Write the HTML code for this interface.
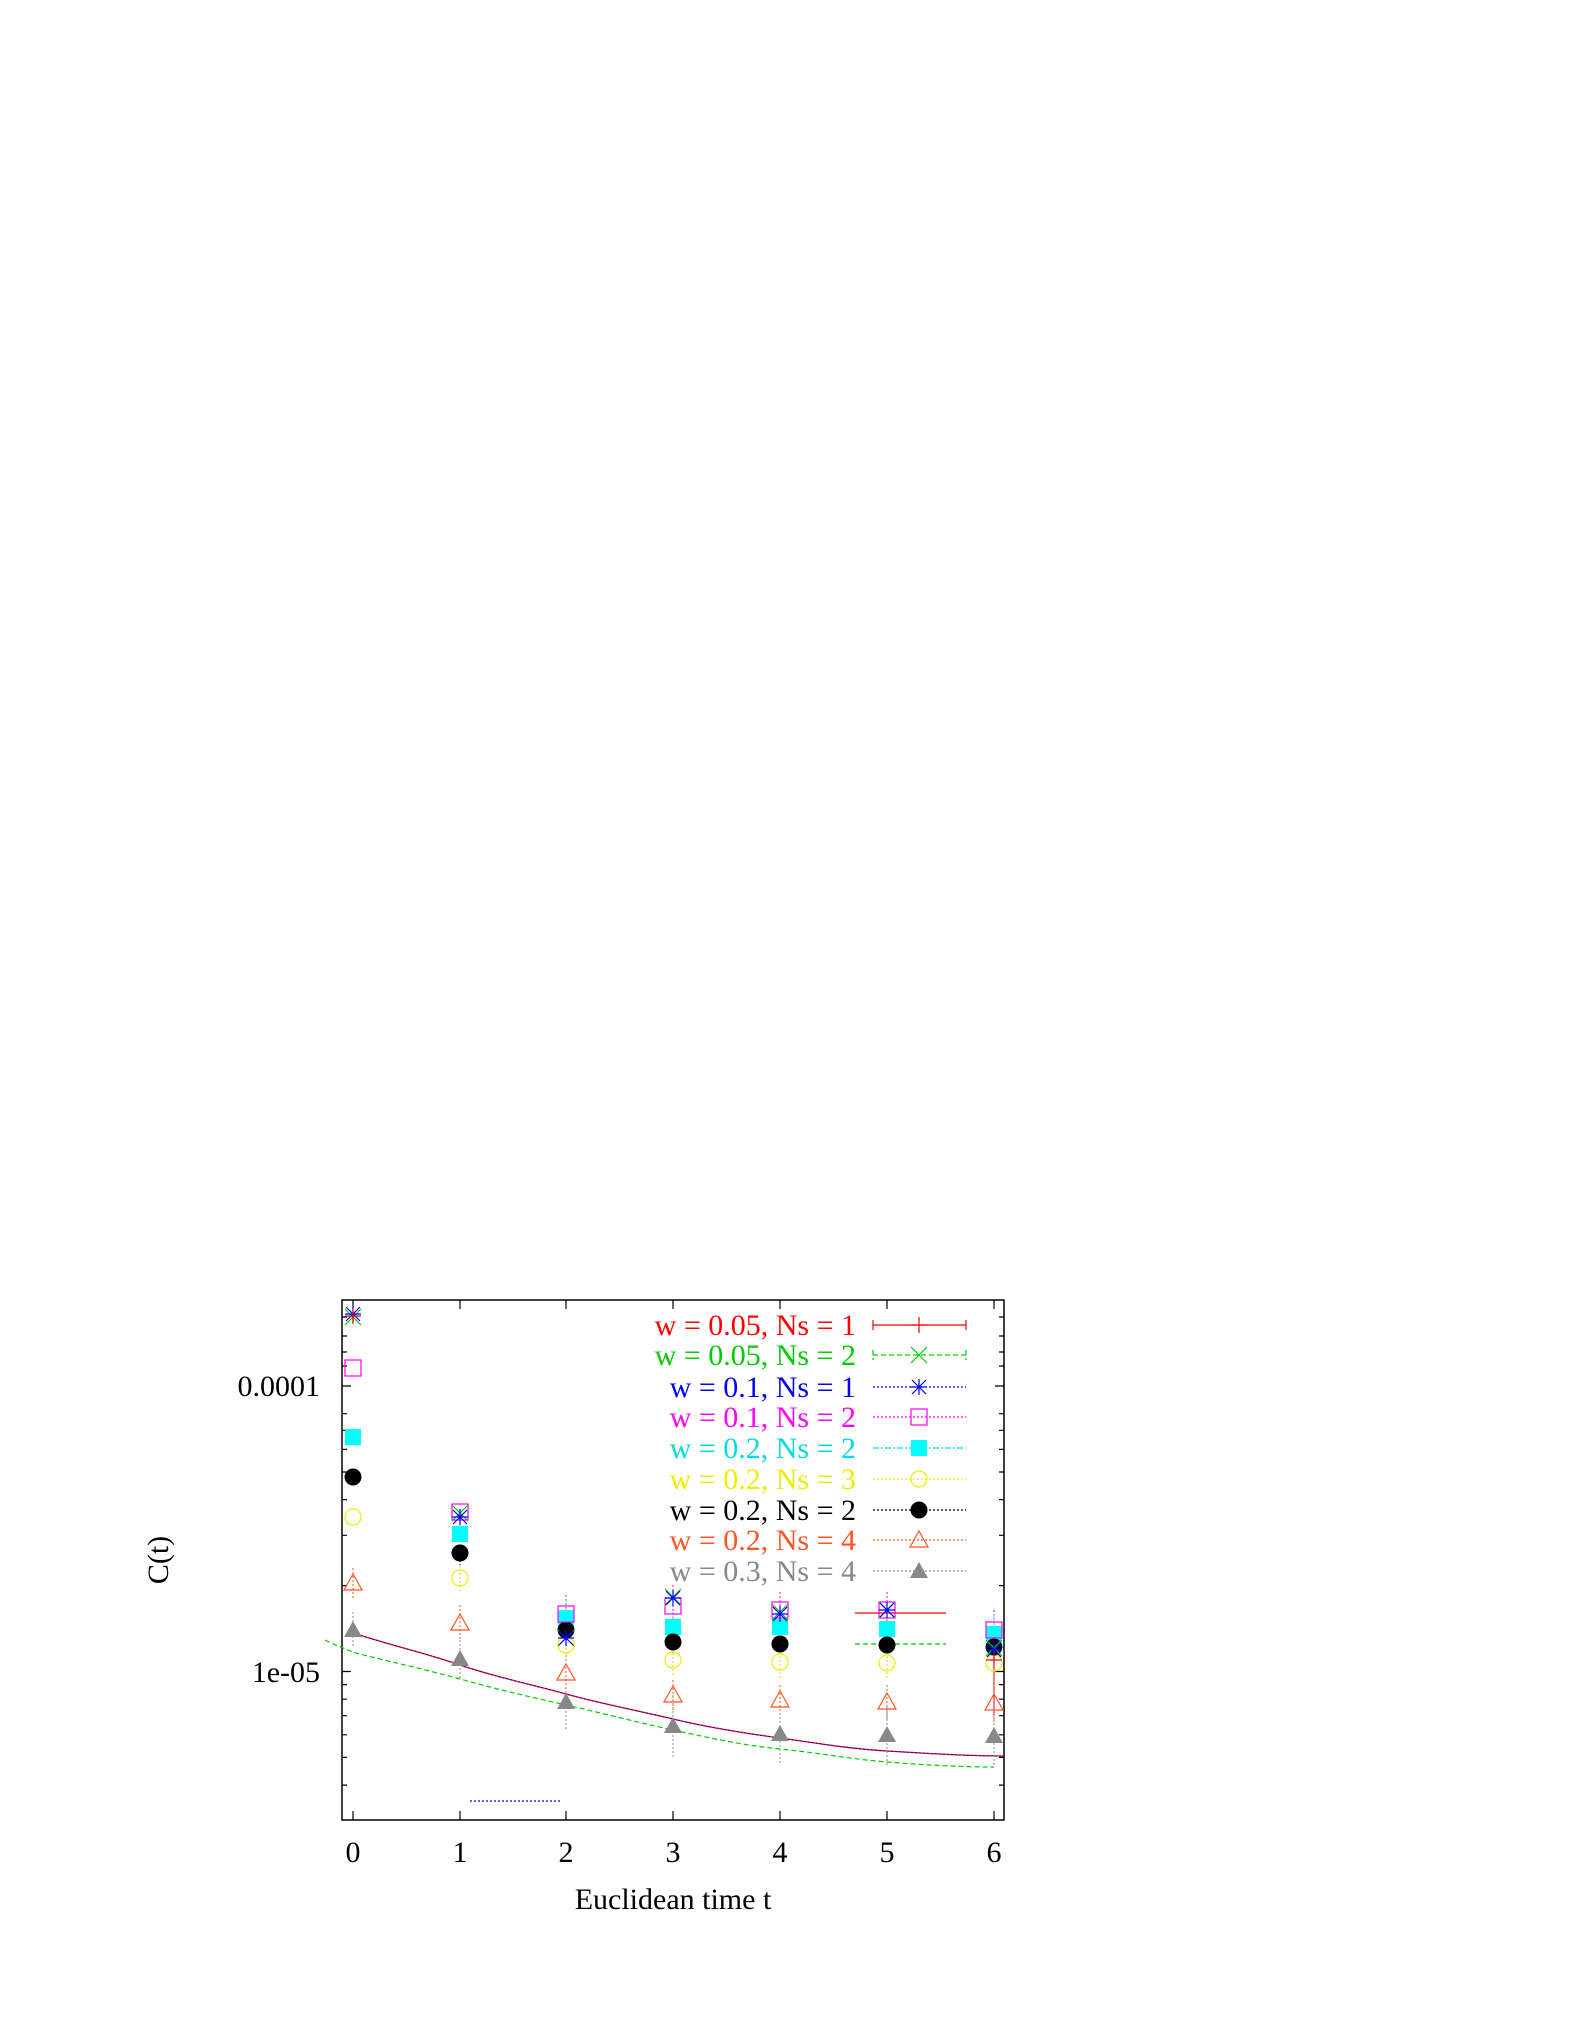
<!DOCTYPE html>
<html><head><style>body{margin:0;background:#fff}svg{display:block}text{font-family:"Liberation Serif",serif;font-size:30px}</style></head>
<body>
<svg width="1578" height="2042" viewBox="0 0 1578 2042" xmlns="http://www.w3.org/2000/svg">
<defs>
<g id="plus"><path d="M-8,0H8M0,-8V8" stroke-width="1.2"/></g>
<g id="cross"><path d="M-8,-8L8,8M-8,8L8,-8" stroke-width="1.2"/></g>
<g id="star"><path d="M-8,0H8M0,-8V8M-7,-7L7,7M-7,7L7,-7" stroke-width="1.2"/></g>
<g id="box"><rect x="-8" y="-8" width="16" height="16" fill="none" stroke-width="1.2"/></g>
<g id="fbox"><rect x="-8" y="-8" width="16" height="16" stroke="none"/></g>
<g id="circ"><circle r="8" fill="none" stroke-width="1.2"/></g>
<g id="fcirc"><circle r="8.5" stroke="none"/></g>
<g id="tri"><path d="M0,-9L9,7H-9Z" fill="none" stroke-width="1.2"/></g>
<g id="ftri"><path d="M0,-9L9,7H-9Z" stroke="none"/></g>
</defs>
<rect x="342" y="1300" width="662" height="520" fill="none" stroke="#000" stroke-width="1.5"/>
<g stroke="#000" stroke-width="1.2">
<path d="M353,1820v-9M460,1820v-9M566,1820v-9M673,1820v-9M780,1820v-9M887,1820v-9M994,1820v-9M353,1300v9M460,1300v9M566,1300v9M673,1300v9M780,1300v9M887,1300v9M994,1300v9"/>
<path d="M342,1386h9M342,1671.5h9M1004,1386h-9M1004,1671.5h-9"/>
<path d="M342,1585.6h5M342,1535.3h5M342,1499.6h5M342,1472h5M342,1449.4h5M342,1430.3h5M342,1413.7h5M342,1684.6h5M342,1699.2h5M342,1715.7h5M342,1734.8h5M342,1757.4h5M342,1785.1h5M342,1317h5M342,1336h5M342,1352h5M342,1366h5"/>
<path d="M1004,1585.6h-5M1004,1535.3h-5M1004,1499.6h-5M1004,1472h-5M1004,1449.4h-5M1004,1430.3h-5M1004,1413.7h-5M1004,1684.6h-5M1004,1699.2h-5M1004,1715.7h-5M1004,1734.8h-5M1004,1757.4h-5M1004,1785.1h-5M1004,1317h-5M1004,1336h-5M1004,1352h-5M1004,1366h-5"/>
</g>
<g text-anchor="middle">
<text x="353" y="1862">0</text><text x="460" y="1862">1</text><text x="566" y="1862">2</text><text x="673" y="1862">3</text><text x="780" y="1862">4</text><text x="887" y="1862">5</text><text x="994" y="1862">6</text>
<text x="673" y="1909">Euclidean time t</text>
</g>
<text x="320" y="1396" text-anchor="end">0.0001</text>
<text x="320" y="1682" text-anchor="end">1e-05</text>
<text transform="translate(168,1560) rotate(-90)" text-anchor="middle">C(t)</text>

<path d="M353,1633 C390,1645 425,1653 460,1665 S530,1684 566,1694 S640,1711 673,1719 S750,1734 780,1738 S850,1749 887,1751 S960,1756 1004,1756" fill="none" stroke="#f00" stroke-width="1.3"/>
<path d="M353,1633 C390,1645 425,1653 460,1665 S530,1684 566,1694 S640,1711 673,1719 S750,1734 780,1738 S850,1749 887,1751 S960,1756 1004,1756" fill="none" stroke="#00f" stroke-width="1" stroke-dasharray="2,2"/>
<path d="M325,1640 C335,1645 345,1649 353,1652 S420,1668 460,1679 S530,1697 566,1705 S640,1723 673,1730 S740,1745 780,1749 S850,1759 887,1762 S960,1767 994,1767" fill="none" stroke="#0c0" stroke-width="1.2" stroke-dasharray="5,3"/>
<path d="M855,1613H946" stroke="#f00" stroke-width="1.3"/>
<path d="M855,1644H946" stroke="#0c0" stroke-width="1.2" stroke-dasharray="5,3"/>
<path d="M470,1801H560" stroke="#00f" stroke-width="1.2" stroke-dasharray="2,2"/>

<g stroke-width="1" stroke-dasharray="2,2" fill="none">
<path stroke="#888" d="M353,1612V1648M460,1640V1678M566,1675V1730M673,1695V1757M780,1705V1765M887,1707V1767M994,1707V1767"/>
<path stroke="#f52" d="M353,1568V1598M460,1605V1641M566,1655V1690M673,1680V1710M780,1685V1715M887,1685V1720M994,1685V1722"/>
<path stroke="#000" d="M460,1540V1566M566,1615V1645M673,1628V1656M780,1628V1660M887,1628V1662M994,1628V1666"/>
<path stroke="#f0f" d="M566,1595V1635M673,1585V1625M780,1592V1628M887,1592V1630M994,1610V1650"/>
<path stroke="#0dd" d="M460,1520V1548M566,1600V1636M673,1612V1642M780,1612V1642M887,1614V1645M994,1615V1652"/>
<path stroke="#dd0" d="M460,1565V1592M566,1632V1660M673,1645V1675M780,1648V1678M887,1648V1678M994,1648V1680"/>
<path stroke="#f00" stroke-dasharray="none" d="M994,1650V1715"/>
</g>

<g fill="#888"><use href="#ftri" x="353" y="1630"/><use href="#ftri" x="460" y="1659"/><use href="#ftri" x="566" y="1702"/><use href="#ftri" x="673" y="1726"/><use href="#ftri" x="780" y="1734"/><use href="#ftri" x="887" y="1735"/><use href="#ftri" x="994" y="1736"/></g>
<g stroke="#f52"><use href="#tri" x="353" y="1583"/><use href="#tri" x="460" y="1623"/><use href="#tri" x="566" y="1673"/><use href="#tri" x="673" y="1695"/><use href="#tri" x="780" y="1700"/><use href="#tri" x="887" y="1702"/><use href="#tri" x="994" y="1703"/></g>
<g stroke="#ee0"><use href="#circ" x="353" y="1517"/><use href="#circ" x="460" y="1578"/><use href="#circ" x="566" y="1645"/><use href="#circ" x="673" y="1660"/><use href="#circ" x="780" y="1662"/><use href="#circ" x="887" y="1663"/><use href="#circ" x="994" y="1663"/></g>
<g fill="#0ff"><use href="#fbox" x="353" y="1437"/><use href="#fbox" x="460" y="1534"/><use href="#fbox" x="566" y="1618"/><use href="#fbox" x="673" y="1627"/><use href="#fbox" x="780" y="1627"/><use href="#fbox" x="887" y="1629"/><use href="#fbox" x="994" y="1634"/></g>
<g fill="#000"><use href="#fcirc" x="353" y="1477"/><use href="#fcirc" x="460" y="1553"/><use href="#fcirc" x="566" y="1630"/><use href="#fcirc" x="673" y="1642"/><use href="#fcirc" x="780" y="1644"/><use href="#fcirc" x="887" y="1645"/><use href="#fcirc" x="994" y="1647"/></g>
<g stroke="#f0f"><use href="#box" x="353" y="1368"/><use href="#box" x="460" y="1512"/><use href="#box" x="566" y="1614"/><use href="#box" x="673" y="1606"/><use href="#box" x="780" y="1610"/><use href="#box" x="887" y="1610"/><use href="#box" x="994" y="1630"/></g>
<g stroke="#0c0"><use href="#cross" x="353" y="1317"/><use href="#cross" x="460" y="1513"/><use href="#cross" x="566" y="1638"/><use href="#cross" x="673" y="1597"/><use href="#cross" x="780" y="1612"/><use href="#cross" x="887" y="1610"/><use href="#cross" x="994" y="1648"/></g>
<g stroke="#00f"><use href="#star" x="353" y="1314"/><use href="#star" x="460" y="1517"/><use href="#star" x="566" y="1638"/><use href="#star" x="673" y="1598"/><use href="#star" x="780" y="1614"/><use href="#star" x="887" y="1610"/><use href="#star" x="994" y="1650"/></g>
<g stroke="#f00"><use href="#plus" x="353" y="1316"/><use href="#plus" x="994" y="1660"/></g>

<g text-anchor="end">
<text x="856" y="1335" fill="#f00">w = 0.05, Ns = 1</text>
<text x="856" y="1365" fill="#0c0">w = 0.05, Ns = 2</text>
<text x="856" y="1397" fill="#00f">w = 0.1, Ns = 1</text>
<text x="856" y="1427" fill="#f0f">w = 0.1, Ns = 2</text>
<text x="856" y="1458" fill="#0dd">w = 0.2, Ns = 2</text>
<text x="856" y="1489" fill="#ee0">w = 0.2, Ns = 3</text>
<text x="856" y="1520" fill="#000">w = 0.2, Ns = 2</text>
<text x="856" y="1550" fill="#f52">w = 0.2, Ns = 4</text>
<text x="856" y="1581" fill="#888">w = 0.3, Ns = 4</text>
</g>
<g stroke-width="1.2" fill="none">
<path d="M873,1325H966M873,1320v10M966,1320v10" stroke="#f00"/>
<path d="M873,1355H966M873,1350v10M966,1350v10" stroke="#0c0" stroke-dasharray="5,3"/>
<path d="M873,1387H966" stroke="#00f" stroke-dasharray="2,2"/>
<path d="M873,1417H966" stroke="#f0f" stroke-dasharray="2,2"/>
<path d="M873,1448H966" stroke="#0dd" stroke-dasharray="6,2,2,2"/>
<path d="M873,1479H966" stroke="#ee0" stroke-dasharray="2,2"/>
<path d="M873,1510H966" stroke="#000" stroke-dasharray="2,2"/>
<path d="M873,1540H966" stroke="#f52" stroke-dasharray="2,2"/>
<path d="M873,1571H966" stroke="#888" stroke-dasharray="2,2"/>
</g>
<use href="#plus" x="919" y="1325" stroke="#f00"/>
<use href="#cross" x="919" y="1355" stroke="#0c0"/>
<use href="#star" x="919" y="1387" stroke="#00f"/>
<use href="#box" x="919" y="1417" stroke="#f0f"/>
<use href="#fbox" x="919" y="1448" fill="#0ff"/>
<use href="#circ" x="919" y="1479" stroke="#ee0"/>
<use href="#fcirc" x="919" y="1510" fill="#000"/>
<use href="#tri" x="919" y="1540" stroke="#f52"/>
<use href="#ftri" x="919" y="1571" fill="#888"/>
</svg>
</body></html>
